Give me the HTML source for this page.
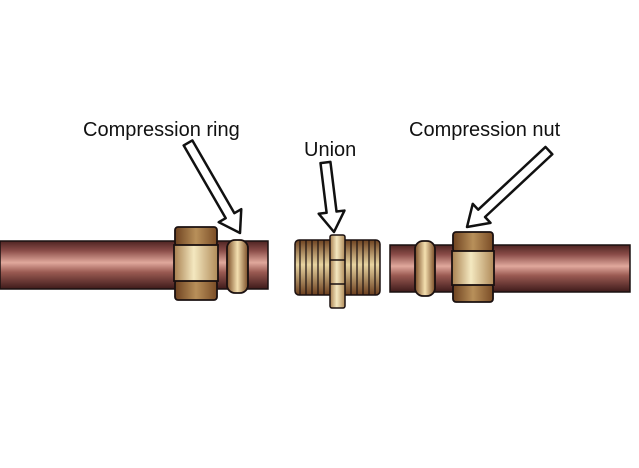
<!DOCTYPE html>
<html><head><meta charset="utf-8"><style>
html,body{margin:0;padding:0;background:#fff;}
svg{display:block}
text{font-family:"Liberation Sans",sans-serif;font-size:20px;fill:#111}
</style></head><body>
<svg width="639" height="468" viewBox="0 0 639 468" xmlns="http://www.w3.org/2000/svg">
<defs>
<linearGradient id="pipe" x1="0" y1="0" x2="0" y2="1">
<stop offset="0" stop-color="#4e2422"/><stop offset="0.2" stop-color="#8a4c48"/>
<stop offset="0.45" stop-color="#e0a89c"/><stop offset="0.65" stop-color="#9a5a52"/>
<stop offset="1" stop-color="#3e1a1a"/></linearGradient>
<linearGradient id="band" x1="0" y1="0" x2="1" y2="0">
<stop offset="0" stop-color="#6e4220"/><stop offset="0.5" stop-color="#b8905a"/><stop offset="1" stop-color="#7a4c26"/></linearGradient>
<linearGradient id="mid" x1="0" y1="0" x2="1" y2="0">
<stop offset="0" stop-color="#a88050"/><stop offset="0.45" stop-color="#f4e8c0"/><stop offset="1" stop-color="#b08a58"/></linearGradient>
<linearGradient id="ring" x1="0" y1="0" x2="1" y2="0">
<stop offset="0" stop-color="#7a4c26"/><stop offset="0.5" stop-color="#f4e0b0"/><stop offset="1" stop-color="#7a4c26"/></linearGradient>
<linearGradient id="thr" x1="0" y1="0" x2="0" y2="1">
<stop offset="0" stop-color="#6e4220"/><stop offset="0.45" stop-color="#e8d4a0"/><stop offset="1" stop-color="#6a3e1e"/></linearGradient>
</defs>
<text x="83" y="136">Compression ring</text>
<text x="304" y="156">Union</text>
<text x="409" y="136">Compression nut</text>
<rect x="0" y="241" width="268" height="48" fill="url(#pipe)" stroke="#1a1010" stroke-width="1.5"/>
<g stroke="#1a1010" stroke-width="1.8">
<rect x="175" y="227" width="42" height="19" rx="3" fill="url(#band)"/>
<rect x="175" y="280" width="42" height="20" rx="3" fill="url(#band)"/>
<rect x="174" y="245" width="44" height="36" fill="url(#mid)"/>
<rect x="227" y="240" width="21" height="53" rx="8" fill="url(#ring)"/>
</g>
<g stroke="#1a1010" stroke-width="1.5">
<rect x="295" y="240" width="85" height="55" rx="4" fill="url(#thr)"/>
<g stroke-width="1.2">
<line x1="300" y1="240" x2="300" y2="295"/><line x1="306" y1="240" x2="306" y2="295"/>
<line x1="312" y1="240" x2="312" y2="295"/><line x1="318" y1="240" x2="318" y2="295"/>
<line x1="324" y1="240" x2="324" y2="295"/>
<line x1="351" y1="240" x2="351" y2="295"/><line x1="357" y1="240" x2="357" y2="295"/>
<line x1="363" y1="240" x2="363" y2="295"/><line x1="369" y1="240" x2="369" y2="295"/>
<line x1="375" y1="240" x2="375" y2="295"/></g>
<rect x="330" y="235" width="15" height="73" rx="2" fill="url(#mid)"/>
<line x1="330" y1="260" x2="345" y2="260"/><line x1="330" y1="284" x2="345" y2="284"/>
</g>
<rect x="390" y="245" width="240" height="47" fill="url(#pipe)" stroke="#1a1010" stroke-width="1.5"/>
<g stroke="#1a1010" stroke-width="1.8">
<rect x="415" y="241" width="20" height="55" rx="8" fill="url(#ring)"/>
<rect x="453" y="232" width="40" height="20" rx="3" fill="url(#band)"/>
<rect x="453" y="284" width="40" height="18" rx="3" fill="url(#band)"/>
<rect x="452" y="251" width="42" height="34" fill="url(#mid)"/>
</g>
<g fill="#fff" stroke="#111" stroke-width="2.5" stroke-linejoin="round">
<g transform="translate(240,233) rotate(-30)"><polygon points="0,0 -13,-20 -5,-20 -5,-104 5,-104 5,-20 13,-20"/></g>
<g transform="translate(334,232) rotate(-7)"><polygon points="0,0 -13,-20 -5,-20 -5,-70 5,-70 5,-20 13,-20"/></g>
<g transform="translate(467,227) rotate(47)"><polygon points="0,0 -13,-20 -5,-20 -5,-112 5,-112 5,-20 13,-20"/></g>
</g>
</svg>
</body></html>
